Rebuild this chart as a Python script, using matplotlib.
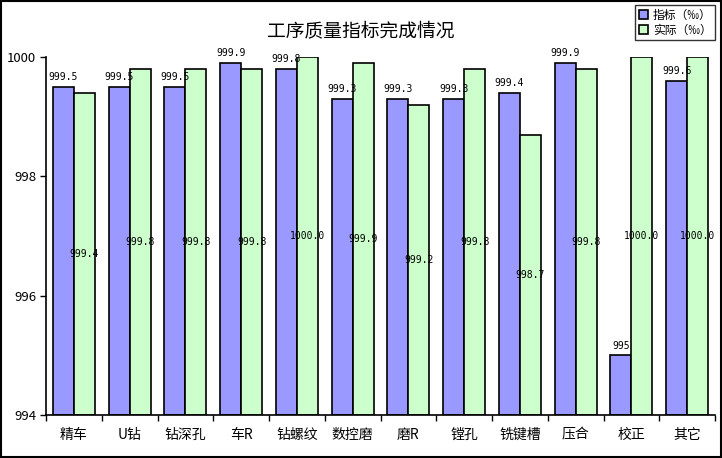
import numpy as np
import matplotlib
matplotlib.use('Agg')
import matplotlib.pyplot as plt
from matplotlib.patches import Rectangle

plt.rcParams['font.family'] = ['Noto Sans CJK SC', 'DejaVu Sans']

# Data
categories = ['精车', 'U钻', '钻深孔', '车R', '钻螺纹', '数控磨', '磨R', '镗孔', '铣键槽', '压合', '校正', '其它']
target = [999.5, 999.5, 999.5, 999.9, 999.8, 999.3, 999.3, 999.3, 999.4, 999.9, 995, 999.6]
actual = [999.4, 999.8, 999.8, 999.8, 1000.0, 999.9, 999.2, 999.8, 998.7, 999.8, 1000.0, 1000.0]
y_ticks = [994, 996, 998, 1000]

fig = plt.figure(figsize=(7.22, 4.58), dpi=100)
ax = fig.add_axes([46 / 722, 1 - 415 / 458, 669 / 722, 358 / 458])

x = np.arange(len(categories))
w = 0.375
ymin = 994
b1 = ax.bar(x - w / 2, np.array(target) - ymin, w, bottom=ymin,
            color='#9999FF', edgecolor='black', linewidth=1.2, label='指标（‰）')
b2 = ax.bar(x + w / 2, np.array(actual) - ymin, w, bottom=ymin,
            color='#CCFFCC', edgecolor='black', linewidth=1.2, label='实际（‰）')

# value labels
for xi, v in zip(x, target):
    ax.text(xi - w / 2, v + 0.08, '%g' % v, ha='center', va='bottom',
            fontsize=7, family='DejaVu Sans Mono')
for xi, v in zip(x, actual):
    ax.text(xi + w / 2, (v + ymin) / 2, '%.1f' % v, ha='center', va='center',
            fontsize=7, family='DejaVu Sans Mono')

ax.set_xlim(-0.5, len(categories) - 0.5)
ax.set_ylim(994, 1000)
ax.set_yticks(y_ticks)
ax.set_yticklabels([str(t) for t in y_ticks], fontsize=9.5)
ax.set_xticks(x)
ax.set_xticklabels(categories, fontsize=10)
ax.set_xticks(np.arange(len(categories) + 1) - 0.5, minor=True)
ax.tick_params(axis='x', which='major', length=0, pad=9)
ax.tick_params(axis='x', which='minor', length=4, width=1, direction='out')
ax.tick_params(axis='y', length=4, width=1, direction='out', pad=3)

ax.spines['top'].set_visible(False)
ax.spines['right'].set_visible(False)
ax.spines['left'].set_linewidth(1.2)
ax.spines['bottom'].set_linewidth(1.2)

fig.text(0.5, 1 - 32 / 458, '工序质量指标完成情况', ha='center', va='center', fontsize=13.5)

leg = fig.legend(handles=[b1, b2], loc='upper right', bbox_to_anchor=(715 / 722, 1 - 5 / 458),
                 fontsize=8.5, frameon=True, fancybox=False, handlelength=0.8, handleheight=0.8,
                 handletextpad=0.4, borderpad=0.3, labelspacing=0.2, borderaxespad=0)
leg.get_frame().set_edgecolor('black')
leg.get_frame().set_linewidth(1.0)

# figure border
fig.patches.append(Rectangle((0.001, 0.002), 0.997, 0.996, transform=fig.transFigure,
                             fill=False, edgecolor='black', linewidth=1.5))

fig.savefig('out.png', dpi=100)
